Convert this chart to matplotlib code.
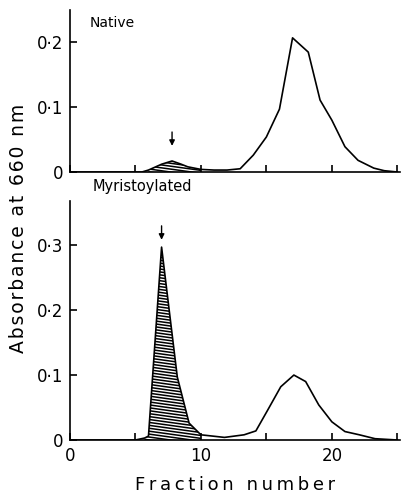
import numpy as np
import matplotlib.pyplot as plt
from matplotlib.patches import Polygon

# Native enzyme elution profile
native_x = [0, 5.5, 6, 7, 7.8, 8.5, 9, 10, 11, 12, 13, 14, 15, 16, 17, 18.2, 19.1, 20, 21, 22, 23.2, 24, 25]
native_y = [0, 0, 0.003, 0.012, 0.017, 0.012, 0.008, 0.004, 0.003, 0.003, 0.005, 0.026, 0.054, 0.097,
            0.207, 0.185, 0.111, 0.080, 0.039, 0.018, 0.006, 0.002, 0]

# Myristoylated enzyme elution profile
myr_x = [0, 5, 5.7, 6, 7, 7.4, 8.2, 9.1, 10, 11.8, 13.3, 14.2, 15.1, 16.1, 17.1, 18, 19, 20, 21, 22.1, 23.3, 25]
myr_y = [0, 0, 0.003, 0.006, 0.297, 0.23, 0.097, 0.026, 0.008, 0.004, 0.008, 0.014, 0.046, 0.082,
         0.100, 0.090, 0.054, 0.028, 0.013, 0.008, 0.002, 0]

native_shade = (6, 10)
myr_shade = (5.7, 10)
native_arrow = 7.8
myr_arrow = 7.0

plt.rcParams['font.family'] = 'DejaVu Sans'
fig = plt.figure(figsize=(4.04, 5.0), dpi=100)
ax1 = fig.add_axes([0.173, 0.656, 0.817, 0.324])
ax2 = fig.add_axes([0.173, 0.120, 0.817, 0.478])


def spaced(s, sep):
    return sep.join(s)


def shade(ax, xs, ys, lo, hi):
    xs = np.array(xs, float)
    ys = np.array(ys, float)
    m = (xs >= lo) & (xs <= hi)
    px = np.concatenate([[lo], xs[m], [hi]])
    py = np.concatenate([[np.interp(lo, xs, ys)], ys[m], [np.interp(hi, xs, ys)]])
    verts = list(zip(px, py)) + [(hi, 0), (lo, 0)]
    poly = Polygon(verts, closed=True, facecolor='white', edgecolor='none')
    ax.add_patch(poly)
    # shallow hatching lines, clipped to the shaded area
    top = py.max() + 0.05
    x0, x1 = lo - 1, hi + 1
    for c in np.arange(-0.01, top, 0.0045):
        ln, = ax.plot([x0, x1], [c - 0.0028 * x0, c - 0.0028 * x1], color='black', lw=1.1)
        ln.set_clip_path(poly)


def style(ax, ymax, yticks, ylabels):
    ax.set_xlim(0, 25.2)
    ax.set_ylim(0, ymax)
    for s in ['top', 'right']:
        ax.spines[s].set_visible(False)
    ax.spines['left'].set_linewidth(1.2)
    ax.spines['bottom'].set_linewidth(1.2)
    ax.set_xticks([0, 5, 10, 15, 20, 25])
    ax.set_yticks(yticks)
    ax.set_yticklabels(ylabels)
    ax.tick_params(direction='in', length=5, width=1.2, labelsize=12, pad=5)


shade(ax1, native_x, native_y, *native_shade)
ax1.plot(native_x, native_y, color='black', lw=1.2)
style(ax1, 0.25, [0, 0.1, 0.2], ['0', '0·1', '0·2'])
ax1.set_xticklabels([])
ax1.annotate('', xy=(native_arrow, 0.036), xytext=(native_arrow, 0.066),
             arrowprops=dict(arrowstyle='-|>', color='black', lw=1.0, mutation_scale=8))
ax1.text(0.06, 0.96, 'Native', transform=ax1.transAxes, fontsize=10, va='top')

shade(ax2, myr_x, myr_y, *myr_shade)
ax2.plot(myr_x, myr_y, color='black', lw=1.2)
style(ax2, 0.368, [0, 0.1, 0.2, 0.3], ['0', '0·1', '0·2', '0·3'])
ax2.set_xticklabels(['0', '', '10', '', '20', ''])
ax2.annotate('', xy=(myr_arrow, 0.304), xytext=(myr_arrow, 0.334),
             arrowprops=dict(arrowstyle='-|>', color='black', lw=1.0, mutation_scale=8))
ax2.set_xlabel(spaced('Fraction number', '\u2009'), fontsize=13, labelpad=8)

fig.text(0.23, 0.627, 'Myristoylated', fontsize=10.5, va='center')
fig.text(0.045, 0.544, spaced('Absorbance at 660 nm', '\u200a'), rotation=90,
         fontsize=13.5, ha='center', va='center')

fig.savefig('out.png', dpi=100)
